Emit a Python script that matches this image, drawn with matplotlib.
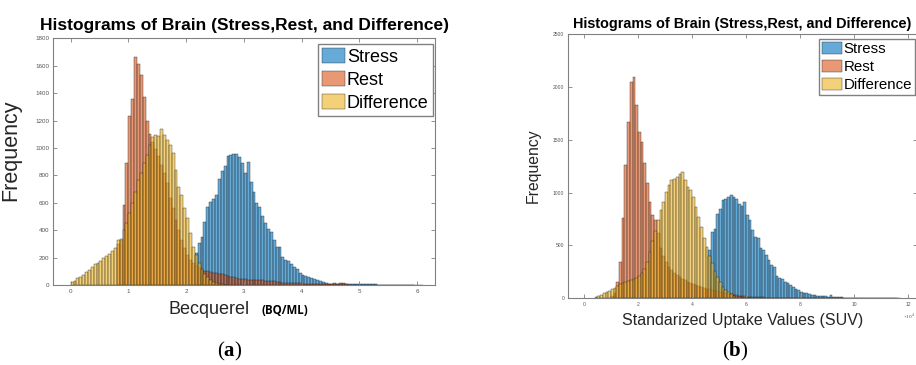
import matplotlib
matplotlib.use("Agg")
import matplotlib.pyplot as plt
from matplotlib.colors import to_rgba

# ---- panel (a): Becquerel, bin width 0.05 ----
bin_a = 0.05
stress_a_start = 2.15
stress_a = [231, 304, 352, 461, 571, 607, 624, 660, 770, 835, 870, 940, 945, 955, 958, 932,
            887, 819, 899, 750, 680, 600, 570, 500, 455, 410, 390, 330, 279, 275, 205, 182,
            175, 150, 134, 115, 90, 75, 63, 61, 49, 41, 40, 30, 22, 15, 10, 8, 12, 10, 16,
            13, 9, 7, 6, 8, 5, 4, 10, 6, 4, 7, 5, 3, 2, 2, 3, 2, 1, 1, 2, 1, 1, 2, 1, 1, 1,
            1, 1]
rest_a_start = 0.80
rest_a = [300, 330, 583, 890, 1230, 1355, 1660, 1615, 1530, 1370, 1200, 1100, 1040, 990,
          940, 875, 816, 743, 634, 561, 474, 401, 328, 267, 219, 185, 160, 140, 125, 112,
          105, 100, 95, 90, 86, 82, 78, 72, 66, 60, 55, 50, 47, 45, 42, 40, 38, 36, 35, 34,
          33, 32, 31, 29, 27, 24, 21, 18, 16, 15, 14, 13, 12, 11, 10, 10, 9, 9, 8, 8, 7, 7,
          6, 6, 5, 5, 5, 4, 4, 4, 3, 3, 3, 3, 2, 2, 2, 2, 2, 2, 1, 1, 1, 1, 1, 1, 1, 0, 1,
          1, 0, 1, 1]
diff_a_start = 0.0
diff_a = [24, 30, 50, 60, 73, 95, 109, 130, 150, 163, 177, 195, 210, 225, 250, 267, 328,
          333, 400, 454, 522, 600, 680, 765, 814, 891, 947, 1020, 1081, 1093, 1090, 1135,
          1093, 1057, 1020, 960, 838, 716, 656, 559, 486, 377, 279, 219, 160, 115, 80, 55,
          38, 25, 15, 9, 5, 3]

# ---- panel (b): SUV, bin width 0.1 ----
bin_b = 0.1
stress_b_start = 4.6
stress_b = [456, 628, 660, 802, 849, 927, 943, 958, 975, 958, 943, 896, 871, 911, 786, 739,
            644, 581, 566, 472, 456, 408, 361, 314, 298, 210, 189, 179, 157, 141, 125, 104,
            85, 78, 62, 53, 47, 41, 31, 31, 25, 22, 25, 22, 15, 28, 15, 9, 9, 8, 6, 5, 6, 4,
            4, 3, 2, 2, 2, 1, 1, 1, 1, 1, 0, 1, 1, 1, 0, 1, 1]
rest_b_start = 1.0
rest_b = [20, 50, 157, 346, 755, 1258, 1667, 2044, 2091, 1824, 1572, 1478, 1280, 1090, 915,
          790, 740, 620, 480, 400, 340, 300, 268, 240, 220, 200, 185, 170, 158, 146, 136,
          127, 118, 110, 100, 92, 85, 78, 72, 65, 58, 52, 47, 42, 37, 33, 29, 25, 22, 19,
          17, 15, 13, 12, 10, 9, 8, 7, 7, 6, 5, 5, 4, 4, 3, 3, 3, 3, 2, 2, 2, 2, 2, 2, 1,
          1, 2, 1, 1, 1, 1, 1, 1, 0, 1, 1, 1, 0, 1, 1, 0, 1, 1, 0, 1, 0, 1, 1, 0, 1, 1, 1,
          0, 1, 1, 1]
diff_b_start = 0.4
diff_b = [8, 20, 35, 48, 62, 72, 85, 97, 115, 135, 148, 157, 163, 172, 180, 195, 215, 240,
          280, 340, 440, 540, 640, 739, 833, 911, 1006, 1069, 1123, 1132, 1147, 1179, 1195,
          1116, 1053, 1022, 958, 864, 770, 675, 566, 487, 400, 330, 260, 200, 150, 110, 78,
          55, 36, 24, 15, 9, 5, 3, 2]

labels = ["Stress", "Rest", "Difference"]
colors = ["#0072BD", "#D95319", "#EDB120"]

plt.rcParams["font.family"] = "Liberation Sans"
plt.rcParams["mathtext.fontset"] = "custom"
plt.rcParams["mathtext.rm"] = "Liberation Serif"
plt.rcParams["mathtext.bf"] = "Liberation Serif:bold"

W, H = 916, 365
fig = plt.figure(figsize=(W / 100, H / 100), dpi=100)


def px_axes(left, top, right, bottom):
    return fig.add_axes([left / W, 1 - bottom / H, (right - left) / W, (bottom - top) / H])


def draw_hist(ax, series, width):
    for (start, counts), label, c in zip(series, labels, colors):
        edges = [start + i * width for i in range(len(counts))]
        ax.bar(edges, counts, width=width, align="edge", label=label,
               facecolor=to_rgba(c, 0.6), edgecolor=(0.1, 0.1, 0.1, 0.75), linewidth=0.35)


def style_axes(ax, tick_size):
    for s in ax.spines.values():
        s.set_color("#808080")
        s.set_linewidth(0.8)
    ax.tick_params(direction="in", top=True, right=True, length=3, width=0.6,
                   color="#808080", labelsize=tick_size, labelcolor="#555555", pad=3)


# panel (a)
ax1 = px_axes(53.3, 38.3, 435, 285)
draw_hist(ax1, [(stress_a_start, stress_a), (rest_a_start, rest_a), (diff_a_start, diff_a)], bin_a)
ax1.set_xlim(-0.30, 6.31)
ax1.set_ylim(0, 1800)
ax1.set_xticks(range(0, 7))
ax1.set_yticks(range(0, 1801, 200))
style_axes(ax1, 4.5)
ax1.set_title("Histograms of Brain (Stress,Rest, and Difference)", fontsize=12.5,
              fontweight="bold", pad=6)
ax1.set_ylabel("Frequency", fontsize=15.5, color="#262626")
ax1.yaxis.set_label_coords(-0.085, 0.545)
leg1 = ax1.legend(loc="upper right", bbox_to_anchor=(0.995, 0.977), borderaxespad=0,
                  fontsize=13, fancybox=False, framealpha=1, edgecolor="#808080",
                  handlelength=1.25, handleheight=0.85, handletextpad=0.1,
                  labelspacing=0.3, borderpad=0.25)
leg1.get_frame().set_linewidth(1.0)
fig.text(168 / W, 1 - 310 / H, "Becquerel", fontsize=13, ha="left", va="center",
         color="#262626")
fig.text(262 / W, 1 - 310 / H, "(BQ/ML)", fontsize=8.3, fontweight="bold",
         family="Open Sans", ha="left", va="center")
fig.text(230 / W, 1 - 351 / H, r"$(\mathbf{a})$", fontsize=15, ha="center", va="center")

# panel (b)
ax2 = px_axes(568.3, 34, 917, 298.3)
draw_hist(ax2, [(stress_b_start, stress_b), (rest_b_start, rest_b), (diff_b_start, diff_b)], bin_b)
ax2.set_xlim(-0.58, 12.33)
ax2.set_ylim(0, 2500)
ax2.set_xticks(range(0, 13, 2))
ax2.set_yticks(range(0, 2501, 500))
style_axes(ax2, 3.6)
ax2.set_title("Histograms of Brain (Stress,Rest, and Difference)", fontsize=10.4,
              fontweight="bold", pad=4.5)
ax2.set_ylabel("Frequency", fontsize=11.3, color="#262626")
ax2.yaxis.set_label_coords(-0.078, 0.5)
ax2.set_xlabel("Standarized Uptake Values (SUV)", fontsize=11.5, labelpad=4, color="#262626")
leg2 = ax2.legend(loc="upper right", bbox_to_anchor=(0.994, 0.981), borderaxespad=0,
                  fontsize=10.8, fancybox=False, framealpha=1, edgecolor="#808080",
                  handlelength=1.3, handleheight=0.85, handletextpad=0.1,
                  labelspacing=0.25, borderpad=0.2)
leg2.get_frame().set_linewidth(1.0)
fig.text(909 / W, 1 - 316 / H, r"$\times10^{4}$", fontsize=3.8, ha="center", va="center",
         color="#555555")
fig.text(735 / W, 1 - 351 / H, r"$(\mathbf{b})$", fontsize=15, ha="center", va="center")

fig.savefig("out.png", dpi=100)
